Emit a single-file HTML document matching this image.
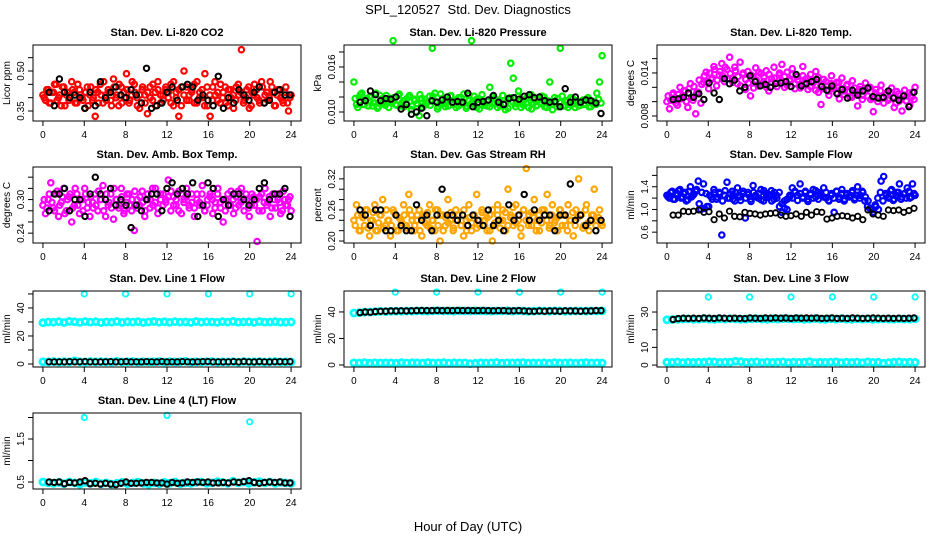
<!DOCTYPE html>
<html><head><meta charset="utf-8"><style>
html,body{margin:0;padding:0;background:#fff;}
svg{display:block;font-family:"Liberation Sans",sans-serif;}
</style></head><body>
<svg id="chart" width="936" height="540" viewBox="0 0 936 540" xmlns="http://www.w3.org/2000/svg">
<text x="468" y="14" font-size="13" text-anchor="middle">SPL_120527&#160; Std. Dev. Diagnostics</text>
<text x="468" y="531" font-size="13" text-anchor="middle">Hour of Day (UTC)</text>
</svg>
<script>
// ---- data ----
const co2Colored=[0.41,0.39,0.43,0.38,0.42,0.45,0.40,0.37,0.44,0.41,0.39,0.46,0.42,0.38,0.43,0.40,0.36,0.44,0.41,0.39,0.33,0.42,0.45,0.38,0.41,0.43,0.39,0.47,0.40,0.37,0.44,0.42,0.49,0.38,0.41,0.45,0.40,0.36,0.43,0.41,0.34,0.44,0.39,0.42,0.46,0.38,0.41,0.43,0.40,0.45,0.37,0.42,0.33,0.44,0.50,0.39,0.41,0.43,0.38,0.46,0.42,0.40,0.49,0.37,0.33,0.44,0.41,0.39,0.45,0.42,0.38,0.43,0.40,0.36,0.44,0.41,0.58,0.39,0.43,0.36,0.42,0.45,0.40,0.38,0.44,0.41,0.39,0.46,0.42,0.37,0.43,0.40,0.38,0.44,0.35,0.41];
const co2Colored2=[0.40,0.43,0.38,0.42,0.45,0.39,0.41,0.44,0.37,0.42,0.40,0.43,0.38,0.45,0.41,0.39,0.42,0.37,0.44,0.40,0.43,0.38,0.41,0.46,0.39,0.42,0.37,0.44,0.41,0.45,0.38,0.40,0.43,0.39,0.46,0.42,0.37,0.41,0.44,0.38,0.42,0.40,0.45,0.37,0.43,0.41,0.39,0.44,0.42,0.38,0.46,0.40,0.43,0.37,0.41,0.44,0.39,0.42,0.45,0.38,0.40,0.43,0.37,0.44,0.41,0.39,0.46,0.42,0.38,0.40,0.44,0.37,0.43,0.41,0.39,0.45,0.42,0.38,0.40,0.44,0.37,0.41,0.43,0.39,0.46,0.38,0.42,0.40,0.44,0.37,0.41,0.43,0.39,0.42,0.38,0.40];
const co2Black=[0.42,0.37,0.47,0.42,0.40,0.41,0.40,0.36,0.42,0.37,0.46,0.40,0.42,0.44,0.41,0.40,0.43,0.41,0.38,0.51,0.36,0.37,0.38,0.42,0.44,0.39,0.44,0.45,0.44,0.39,0.41,0.39,0.37,0.48,0.36,0.40,0.38,0.43,0.41,0.39,0.42,0.44,0.38,0.39,0.42,0.43,0.41,0.41];
const presColored=[0.014,0.011,0.012,0.0125,0.011,0.0118,0.012,0.0108,0.0112,0.0105,0.0122,0.0113,0.0109,0.0115,0.0118,0.0195,0.011,0.0122,0.0108,0.0115,0.0112,0.012,0.0103,0.0117,0.0111,0.0095,0.0118,0.0109,0.0113,0.0121,0.0185,0.0125,0.0104,0.0112,0.0118,0.0107,0.0114,0.0121,0.011,0.0116,0.0108,0.0119,0.0113,0.0105,0.0122,0.0195,0.011,0.0117,0.0104,0.0115,0.0112,0.0108,0.0133,0.0111,0.0118,0.0106,0.0114,0.0122,0.0103,0.0117,0.0165,0.0145,0.0111,0.0128,0.0106,0.0115,0.0112,0.0119,0.0104,0.0116,0.0109,0.0113,0.0121,0.0107,0.0115,0.014,0.0103,0.0112,0.0118,0.0185,0.0108,0.0114,0.0106,0.0119,0.0111,0.0115,0.0108,0.0113,0.0110,0.0117,0.0107,0.0112,0.0114,0.0125,0.0140,0.0175];
const presColored2=[0.0118,0.0106,0.0123,0.011,0.0115,0.0108,0.0121,0.0112,0.0125,0.0107,0.0117,0.0111,0.0122,0.0106,0.0114,0.0119,0.0109,0.0124,0.0112,0.0107,0.0118,0.0122,0.0108,0.0115,0.0111,0.0123,0.0106,0.0117,0.0113,0.0109,0.0121,0.0114,0.0107,0.0124,0.0111,0.0116,0.0108,0.0122,0.0113,0.0106,0.0119,0.0111,0.0124,0.0108,0.0115,0.0112,0.0121,0.0106,0.0117,0.0123,0.0109,0.0114,0.0107,0.0120,0.0112,0.0116,0.0108,0.0122,0.0111,0.0105,0.0119,0.0113,0.0107,0.0121,0.0114,0.0109,0.0118,0.0106,0.0123,0.0112,0.0108,0.0117,0.0111,0.0120,0.0106,0.0114,0.0110,0.0119,0.0107,0.0113,0.0121,0.0108,0.0115,0.0110,0.0118,0.0106,0.0113,0.0109,0.0116,0.0111,0.0119,0.0107,0.0114,0.0110,0.0117,0.0112];
const presBlack=[0.0113,0.0115,0.0128,0.0123,0.0115,0.0118,0.0117,0.0120,0.0104,0.0110,0.0097,0.0100,0.0105,0.0095,0.0115,0.0113,0.0116,0.0120,0.0113,0.0114,0.0113,0.0125,0.0107,0.0113,0.0114,0.0116,0.0122,0.0113,0.0110,0.0118,0.0119,0.0117,0.0121,0.0123,0.0119,0.0120,0.0115,0.0113,0.0114,0.0107,0.0131,0.0113,0.0120,0.0113,0.0116,0.0115,0.0112,0.0098];
const liTempColored=[0.010,0.009,0.011,0.0105,0.0095,0.012,0.0108,0.0115,0.0092,0.0125,0.0102,0.0083,0.0113,0.0098,0.0127,0.0141,0.0118,0.0131,0.0149,0.0122,0.0137,0.0153,0.0128,0.0145,0.0162,0.0133,0.0148,0.0125,0.0155,0.0138,0.0117,0.0142,0.0108,0.0135,0.0147,0.0122,0.0139,0.0128,0.0143,0.0115,0.0132,0.0148,0.0126,0.0137,0.0152,0.0120,0.0141,0.0129,0.0146,0.0118,0.0135,0.0124,0.0149,0.0131,0.0117,0.0138,0.0126,0.0142,0.0113,0.0096,0.0131,0.0122,0.0109,0.0136,0.0118,0.0127,0.0104,0.0133,0.0115,0.0124,0.0107,0.0129,0.0112,0.0094,0.0121,0.0109,0.0126,0.0118,0.0103,0.0086,0.0117,0.0108,0.0123,0.0098,0.0112,0.0105,0.0119,0.0092,0.0114,0.0101,0.0087,0.0116,0.0108,0.0095,0.0113,0.0120];
const liTempColored2=[0.0108,0.0102,0.0112,0.0098,0.0110,0.0104,0.0115,0.0100,0.0118,0.0106,0.0121,0.0112,0.0130,0.0124,0.0136,0.0128,0.0140,0.0133,0.0145,0.0130,0.0142,0.0136,0.0148,0.0132,0.0139,0.0127,0.0143,0.0135,0.0122,0.0140,0.0131,0.0126,0.0137,0.0119,0.0130,0.0141,0.0124,0.0134,0.0120,0.0138,0.0127,0.0133,0.0121,0.0140,0.0129,0.0135,0.0123,0.0131,0.0138,0.0125,0.0130,0.0119,0.0136,0.0127,0.0132,0.0121,0.0129,0.0116,0.0134,0.0123,0.0118,0.0128,0.0115,0.0125,0.0120,0.0112,0.0127,0.0118,0.0110,0.0122,0.0114,0.0106,0.0119,0.0111,0.0117,0.0103,0.0114,0.0108,0.0120,0.0105,0.0112,0.0100,0.0115,0.0107,0.0110,0.0102,0.0113,0.0106,0.0098,0.0111,0.0104,0.0109,0.0101,0.0112,0.0106,0.0103];
const liTempBlack=[0.0103,0.0104,0.0106,0.0112,0.0106,0.0111,0.0103,0.0126,0.0112,0.0103,0.0132,0.0125,0.0130,0.0115,0.0120,0.0136,0.0128,0.0122,0.0124,0.0120,0.0125,0.0126,0.0128,0.0121,0.0138,0.0122,0.0125,0.0128,0.0131,0.0121,0.0116,0.0122,0.0111,0.0117,0.0105,0.0116,0.0109,0.0115,0.0119,0.0107,0.0105,0.0106,0.0115,0.0105,0.0102,0.0108,0.0093,0.0113];
const ambColored=[0.29,0.275,0.30,0.33,0.285,0.31,0.27,0.295,0.32,0.28,0.305,0.26,0.29,0.31,0.275,0.30,0.32,0.285,0.27,0.295,0.31,0.28,0.30,0.325,0.27,0.29,0.31,0.265,0.30,0.285,0.32,0.275,0.295,0.31,0.28,0.245,0.30,0.29,0.315,0.27,0.30,0.285,0.32,0.295,0.275,0.31,0.29,0.30,0.335,0.28,0.305,0.29,0.315,0.275,0.30,0.32,0.285,0.295,0.27,0.31,0.29,0.325,0.28,0.30,0.31,0.275,0.295,0.32,0.285,0.26,0.30,0.29,0.315,0.275,0.305,0.29,0.32,0.28,0.30,0.27,0.31,0.29,0.225,0.305,0.28,0.32,0.295,0.27,0.31,0.285,0.30,0.275,0.315,0.29,0.30,0.28];
const ambColored2=[0.30,0.285,0.31,0.295,0.28,0.315,0.29,0.305,0.275,0.30,0.31,0.285,0.32,0.29,0.30,0.28,0.31,0.295,0.305,0.285,0.29,0.315,0.30,0.28,0.31,0.295,0.285,0.32,0.30,0.29,0.305,0.28,0.31,0.29,0.30,0.315,0.285,0.305,0.295,0.28,0.31,0.30,0.29,0.32,0.285,0.30,0.31,0.295,0.305,0.315,0.29,0.30,0.28,0.31,0.295,0.305,0.29,0.31,0.285,0.30,0.295,0.31,0.28,0.29,0.305,0.30,0.285,0.31,0.295,0.30,0.28,0.31,0.29,0.30,0.285,0.315,0.295,0.30,0.31,0.285,0.29,0.305,0.30,0.28,0.31,0.295,0.29,0.305,0.285,0.30,0.31,0.295,0.28,0.30,0.29,0.305];
const ambBlack=[0.28,0.31,0.31,0.32,0.28,0.30,0.30,0.27,0.31,0.34,0.31,0.30,0.32,0.29,0.30,0.29,0.25,0.29,0.28,0.30,0.31,0.31,0.28,0.32,0.33,0.31,0.32,0.31,0.33,0.27,0.29,0.33,0.32,0.27,0.30,0.29,0.31,0.31,0.30,0.29,0.30,0.32,0.33,0.30,0.31,0.31,0.32,0.27];
const rhColored=[0.24,0.27,0.22,0.25,0.23,0.26,0.21,0.24,0.27,0.22,0.25,0.28,0.23,0.24,0.21,0.26,0.25,0.22,0.24,0.27,0.23,0.29,0.25,0.22,0.24,0.26,0.21,0.25,0.23,0.27,0.24,0.22,0.26,0.20,0.25,0.23,0.28,0.24,0.22,0.26,0.25,0.23,0.21,0.24,0.27,0.22,0.25,0.29,0.23,0.26,0.24,0.22,0.25,0.20,0.23,0.27,0.24,0.26,0.22,0.30,0.25,0.23,0.27,0.24,0.21,0.26,0.34,0.25,0.23,0.28,0.24,0.22,0.26,0.25,0.29,0.23,0.27,0.24,0.22,0.26,0.25,0.23,0.27,0.24,0.21,0.26,0.32,0.25,0.23,0.27,0.22,0.25,0.30,0.24,0.26,0.23];
const rhColored2=[0.23,0.25,0.22,0.245,0.26,0.225,0.24,0.255,0.22,0.235,0.25,0.225,0.26,0.24,0.23,0.255,0.22,0.245,0.235,0.25,0.225,0.26,0.24,0.23,0.25,0.22,0.245,0.235,0.255,0.225,0.24,0.26,0.23,0.25,0.22,0.245,0.235,0.255,0.225,0.24,0.25,0.23,0.26,0.22,0.245,0.235,0.25,0.225,0.24,0.255,0.23,0.245,0.22,0.26,0.235,0.25,0.225,0.24,0.255,0.23,0.245,0.265,0.235,0.25,0.225,0.26,0.24,0.23,0.255,0.245,0.22,0.25,0.235,0.26,0.24,0.225,0.25,0.235,0.245,0.26,0.23,0.25,0.22,0.24,0.255,0.23,0.245,0.25,0.225,0.26,0.235,0.24,0.25,0.23,0.245,0.235];
const rhBlack=[0.26,0.25,0.23,0.26,0.26,0.22,0.22,0.25,0.23,0.22,0.22,0.27,0.24,0.25,0.22,0.25,0.30,0.25,0.25,0.24,0.25,0.23,0.25,0.24,0.23,0.26,0.23,0.24,0.22,0.27,0.24,0.25,0.29,0.24,0.26,0.24,0.25,0.25,0.22,0.25,0.25,0.31,0.24,0.25,0.23,0.24,0.22,0.24];
const flowColored=[1.25,1.2,1.32,1.18,1.28,1.35,1.22,1.3,1.17,1.4,1.25,1.32,1.5,1.0,1.45,1.28,1.05,1.22,1.35,1.18,1.3,0.55,1.25,1.48,1.2,1.32,1.15,1.38,1.22,1.28,0.85,1.3,1.18,1.42,1.25,1.2,1.35,1.15,1.28,1.22,1.33,1.18,1.25,1.3,0.95,1.15,1.0,1.22,1.38,1.3,1.25,1.45,1.2,1.32,1.18,1.28,1.35,1.22,1.3,1.25,1.38,1.2,1.15,1.28,0.95,1.32,1.22,1.35,1.18,1.28,1.25,1.33,1.2,1.4,1.25,1.3,1.22,1.15,1.0,0.95,1.05,1.0,1.5,1.58,1.25,1.2,1.35,1.18,1.3,1.45,1.22,1.28,1.38,1.2,1.45,1.25];
const flowColored2=[1.22,1.3,1.18,1.26,1.33,1.2,1.28,1.15,1.32,1.22,1.27,1.35,1.1,1.3,1.02,1.05,1.25,1.18,1.3,1.22,1.28,1.15,1.33,1.2,1.27,1.18,1.3,1.24,1.16,1.32,1.2,1.26,1.14,1.3,1.22,1.28,1.17,1.33,1.21,1.26,1.15,1.3,1.2,1.05,1.1,1.02,1.18,1.25,1.2,1.32,1.16,1.28,1.22,1.3,1.14,1.26,1.2,1.33,1.18,1.27,1.22,1.3,1.16,1.25,1.2,1.32,1.18,1.28,1.15,1.26,1.22,1.3,1.17,1.25,1.2,1.32,1.15,1.05,1.02,1.0,1.08,1.2,1.3,1.15,1.28,1.22,1.33,1.16,1.25,1.3,1.18,1.27,1.2,1.32,1.22,1.28];
const flowBlack=[0.9,0.9,0.97,0.96,0.97,0.99,0.95,0.96,0.82,0.92,0.85,0.97,0.88,0.87,0.95,0.93,0.92,0.9,0.92,0.93,0.94,0.9,0.88,0.89,0.92,0.88,0.95,0.9,0.96,0.95,0.83,0.85,0.88,0.89,0.88,0.85,0.88,0.82,0.99,0.92,0.90,0.88,0.99,0.98,0.99,0.95,0.98,1.02];
const line1High=[29.5,30,29.8,30.2,29.6,30.4,30.1,29.7,30.3,29.9,30.2,29.6,30,29.8,30.3,29.7,30.1,29.9,30.2,29.6,30,30.3,29.8,30.1,29.7,30.2,29.9,30,29.6,30.3,29.8,30.1,30,29.7,30.2,29.9,30.4,29.8,30,30.1,29.7,30.3,29.9,30,30.2,29.8,29.9,30];
const line1Low=[1.6,1.5,1.8,1.4,1.7,1.5,2.2,1.6,1.4,1.8,1.5,1.7,1.6,1.4,1.9,1.5,1.6,1.8,1.4,1.7,1.5,1.6,1.8,1.4,1.7,1.5,1.6,1.9,1.4,1.6,1.5,1.7,1.8,1.4,1.6,1.5,1.7,1.3,1.8,1.5,1.6,1.7,1.4,1.6,1.8,1.5,1.6,1.5];
const line1Black=[1.6,1.5,1.6,1.5,1.7,1.5,1.6,1.8,1.5,1.6,1.5,1.6,1.7,1.5,1.6,1.8,1.5,1.6,1.5,1.7,1.6,1.5,1.8,1.5,1.6,1.5,1.7,1.6,1.5,1.6,1.7,1.8,1.5,1.6,1.5,1.6,1.7,1.5,1.8,1.6,1.5,1.7,1.6,1.5,1.6,1.7,1.6,1.7];
const line2High=[39.2,39.5,39.8,40,40.2,40.4,40.3,40.5,40.6,40.5,40.7,40.6,40.8,40.7,40.6,40.8,40.9,40.7,40.8,40.6,40.9,40.8,40.7,40.9,40.8,40.7,40.6,40.8,40.7,40.9,40.6,40.8,40.7,40.5,40.6,40.8,40.7,40.6,40.8,40.7,40.5,40.6,40.8,40.7,40.6,40.8,40.7,40.8];
const line2Low=[1.6,1.5,1.8,1.4,1.7,1.5,1.6,1.6,1.4,1.8,1.5,1.7,1.6,1.4,1.9,1.5,1.6,1.8,1.4,1.7,1.5,1.6,1.0,1.4,1.7,1.5,1.6,1.9,1.4,1.6,1.5,1.7,1.8,1.4,1.6,1.5,1.7,1.3,1.8,1.5,1.6,1.7,1.4,1.6,1.8,1.5,1.6,1.5];
const line2Black=[39.5,40,39.8,40.3,40.5,40.6,40.8,40.7,40.9,40.8,40.9,41,41.1,41,41,41.2,41,41.1,41,41.2,41,41.1,41,41,41.1,41,40.9,41,41,40.8,40.9,41,40.8,40.6,40.5,40.7,40.6,40.8,40.7,40.6,40.9,40.8,40.7,40.6,40.8,40.7,41,41];
const line3High=[25.6,25.8,25.9,26,26.1,25.9,26,26.2,26,25.9,26.1,26,26.2,26.1,25.9,26,26.1,26.2,26,25.9,26.1,26,26.2,26.1,26,26.1,25.9,26,26.2,26,25.9,26.1,26,26.2,26,25.9,26.1,26,26.1,25.9,26,26.1,26,25.9,26.1,26,26,26.1];
const line3Low=[1.6,1.5,1.8,1.4,1.7,1.5,1.6,1.6,1.9,1.8,1.5,1.7,1.6,2.1,1.9,1.5,1.6,1.8,1.4,1.7,1.5,1.6,1.8,1.4,1.7,1.5,1.6,1.9,1.4,1.6,1.5,1.7,1.8,1.4,1.6,1.5,1.7,1.3,1.8,1.5,1.6,1.0,1.4,1.6,1.8,1.5,1.6,1.5];
const line3Black=[25.8,26.3,26.5,26.4,26.5,26.4,26.6,26.5,26.4,26.7,26.5,26.4,26.5,26.4,26.3,26.6,26.5,26.4,26.6,26.5,26.7,26.5,26.6,26.4,26.7,26.5,26.6,26.5,26.6,26.4,26.5,26.6,26.4,26.5,26.4,26.6,26.5,26.4,26.5,26.6,26.5,26.4,26.5,26.4,26.5,26.4,26.5,26.6];
const line4Colored=[0.5,0.48,0.47,0.49,0.46,0.5,0.48,0.45,0.49,0.47,0.5,0.46,0.48,0.45,0.47,0.49,0.46,0.48,0.5,0.47,0.45,0.48,0.46,0.49,0.47,0.5,0.46,0.48,0.47,0.49,0.5,0.47,0.48,0.51,0.49,0.47,0.52,0.48,0.5,0.47,0.49,0.51,0.48,0.5,0.47,0.49,0.48,0.47];
const line4Black=[0.5,0.49,0.5,0.46,0.49,0.48,0.5,0.53,0.46,0.47,0.45,0.47,0.45,0.44,0.47,0.5,0.47,0.47,0.48,0.49,0.49,0.48,0.48,0.45,0.49,0.47,0.48,0.5,0.49,0.5,0.49,0.5,0.48,0.48,0.49,0.48,0.5,0.49,0.51,0.53,0.49,0.47,0.49,0.5,0.49,0.5,0.48,0.48];
const spikeHours=[4,8,12,16,20,24];
const line1Spikes=[50,50,50,50,50,50];
const line2Spikes=[55,55,55,55,55,55];
const line3Spikes=[38.5,38.5,38.5,38.5,38.5,38.5];
const line4SpikeHours=[4,12,20];
const line4Spikes=[2.0,2.05,1.9];
const xTicks=[0,4,8,12,16,20,24];

// ---- layout ----
const NS="http://www.w3.org/2000/svg";
const svg=document.getElementById('chart');
const colX=[33,344,657], rowY=[45,167,291,413], W=268, H=76;
function mk(tag,attrs,parent){const e=document.createElementNS(NS,tag);for(const k in attrs)e.setAttribute(k,attrs[k]);(parent||svg).appendChild(e);return e;}

function panel(cfg){
  const x0=colX[cfg.col], y0=rowY[cfg.row];
  const g=mk('g',{});
  
  
  const xs=h=>x0+(h+0.96)/25.92*W;
  const ys=v=>y0+H-(v-cfg.ylo)/(cfg.yhi-cfg.ylo)*H;
  cfg.series.forEach(s=>{
    const sg=mk('g',{},g);
    
    
    const n=s.values.length;
    s.values.forEach((v,i)=>{
      const h=s.hours?s.hours[i]:s.start+(s.end-s.start)*i/(n-1);
      const c=mk('circle',{cx:xs(h).toFixed(1),cy:ys(v).toFixed(1),r:s.r||2.7,fill:'none',stroke:s.color,'stroke-width':s.sw||1.8},sg);
      
      
    });
  });
  const b=mk('rect',{x:x0,y:y0,width:W,height:H,fill:'none',stroke:'#000','stroke-width':1},g);
  
  
  const t=mk('text',{x:x0+W/2,y:y0-9,'font-size':11,'font-weight':'bold','text-anchor':'middle'},g);
  t.textContent=cfg.title;
  
  
  mk('line',{x1:xs(0),x2:xs(24),y1:y0+H,y2:y0+H,stroke:'#000'},g);
  xTicks.forEach(h=>{
    mk('line',{x1:xs(h),x2:xs(h),y1:y0+H,y2:y0+H+5,stroke:'#000'},g);
    const l=mk('text',{x:xs(h),y:y0+H+17,'font-size':10,'text-anchor':'middle'},g);
    l.textContent=h;
    
    
  });
  mk('line',{x1:x0,x2:x0,y1:ys(cfg.ticks[0]),y2:ys(cfg.ticks[cfg.ticks.length-1]),stroke:'#000'},g);
  cfg.ticks.forEach(v=>{
    mk('line',{x1:x0-5,x2:x0,y1:ys(v),y2:ys(v),stroke:'#000'},g);
  });
  cfg.labels.forEach(v=>{
    const yy=ys(v);
    const l=mk('text',{x:x0-9,y:yy,'font-size':10,'text-anchor':'middle',transform:`rotate(-90 ${x0-9} ${yy})`},g);
    l.textContent=cfg.fmt(v);
    
    
  });
  const yl=mk('text',{x:x0-23,y:y0+H/2,'font-size':10,'text-anchor':'middle',transform:`rotate(-90 ${x0-23} ${y0+H/2})`},g);
  yl.textContent=cfg.ylabel;
  
  
}
const f2=v=>v.toFixed(2), f3=v=>v.toFixed(3), f1=v=>v.toFixed(1), f0=v=>v.toFixed(0);
const C='#00ffff';
panel({name:'panel-co2',col:0,row:0,title:'Stan. Dev. Li-820 CO2',ylabel:'Licor ppm',ylo:0.3125,yhi:0.5975,ticks:[0.35,0.40,0.45,0.50,0.55],labels:[0.35,0.50],fmt:f2,
 series:[{name:'co2-all',values:co2Colored,start:0,end:24,color:'#ff0000',sw:2.2},{name:'co2-all-b',values:co2Colored2,start:0.12,end:23.9,color:'#ff0000',sw:2.2},{name:'co2-hourly',values:co2Black,start:0.6,end:23.9,color:'#000',sw:2}]});
panel({name:'panel-pressure',col:1,row:0,title:'Stan. Dev. Li-820 Pressure',ylabel:'kPa',ylo:0.0088,yhi:0.01893,ticks:[0.010,0.012,0.014,0.016,0.018],labels:[0.010,0.016],fmt:f3,
 series:[{name:'pressure-all',values:presColored,start:0,end:24,color:'#00ee00',sw:2.2},{name:'pressure-all-b',values:presColored2,start:0.12,end:23.9,color:'#00ee00',sw:2.2},{name:'pressure-hourly',values:presBlack,start:0.6,end:23.9,color:'#000',sw:2}]});
panel({name:'panel-li-temp',col:2,row:0,title:'Stan. Dev. Li-820 Temp.',ylabel:'degrees C',ylo:0.0073,yhi:0.0179,ticks:[0.008,0.010,0.012,0.014,0.016],labels:[0.008,0.014],fmt:f3,
 series:[{name:'li-temp-all',values:liTempColored,start:0,end:24,color:'#ff00ff',sw:2.2},{name:'li-temp-all-b',values:liTempColored2,start:0.12,end:23.9,color:'#ff00ff',sw:2.2},{name:'li-temp-hourly',values:liTempBlack,start:0.6,end:23.9,color:'#000',sw:2}]});
panel({name:'panel-amb-temp',col:0,row:1,title:'Stan. Dev. Amb. Box Temp.',ylabel:'degrees C',ylo:0.2224,yhi:0.3582,ticks:[0.24,0.26,0.28,0.30,0.32,0.34],labels:[0.24,0.30],fmt:f2,
 series:[{name:'amb-temp-all',values:ambColored,start:0,end:24,color:'#ff00ff',sw:2.2},{name:'amb-temp-all-b',values:ambColored2,start:0.12,end:23.9,color:'#ff00ff',sw:2.2},{name:'amb-temp-hourly',values:ambBlack,start:0.6,end:23.9,color:'#000',sw:2}]});
panel({name:'panel-rh',col:1,row:1,title:'Stan. Dev. Gas Stream RH',ylabel:'percent',ylo:0.1962,yhi:0.3429,ticks:[0.20,0.22,0.24,0.26,0.28,0.30,0.32],labels:[0.20,0.26,0.32],fmt:f2,
 series:[{name:'rh-all',values:rhColored,start:0,end:24,color:'#ffa500',sw:2.2},{name:'rh-all-b',values:rhColored2,start:0.12,end:23.9,color:'#ffa500',sw:2.2},{name:'rh-hourly',values:rhBlack,start:0.6,end:23.9,color:'#000',sw:2}]});
panel({name:'panel-sample-flow',col:2,row:1,title:'Stan. Dev. Sample Flow',ylabel:'ml/min',ylo:0.409,yhi:1.748,ticks:[0.6,0.8,1.0,1.2,1.4,1.6],labels:[0.6,1.0,1.4],fmt:f1,
 series:[{name:'sample-flow-all',values:flowColored,start:0,end:24,color:'#0000ff',sw:2.2},{name:'sample-flow-all-b',values:flowColored2,start:0.12,end:23.9,color:'#0000ff',sw:2.2},{name:'sample-flow-hourly',values:flowBlack,start:0.6,end:23.9,color:'#000',sw:1.8}]});
panel({name:'panel-line1',col:0,row:2,title:'Stan. Dev. Line 1 Flow',ylabel:'ml/min',ylo:-2.14,yhi:52.1,ticks:[0,10,20,30,40,50],labels:[0,20,40],fmt:f0,
 series:[{name:'line1-high',values:line1High,start:0,end:24,color:C,sw:2.8,r:3},{name:'line1-low',values:line1Low,start:0,end:24,color:C,sw:2.8,r:3},{name:'line1-spikes',values:line1Spikes,hours:spikeHours,color:C},{name:'line1-hourly',values:line1Black,start:0.6,end:23.9,color:'#000'}]});
panel({name:'panel-line2',col:1,row:2,title:'Stan. Dev. Line 2 Flow',ylabel:'ml/min',ylo:-1.5,yhi:55.8,ticks:[0,20,40],labels:[0,20,40],fmt:f0,
 series:[{name:'line2-high',values:line2High,start:0,end:24,color:C,sw:2.8,r:3},{name:'line2-low',values:line2Low,start:0,end:24,color:C,sw:2.8,r:3},{name:'line2-spikes',values:line2Spikes,hours:spikeHours,color:C},{name:'line2-hourly',values:line2Black,start:0.6,end:23.9,color:'#000',sw:2}]});
panel({name:'panel-line3',col:2,row:2,title:'Stan. Dev. Line 3 Flow',ylabel:'ml/min',ylo:-1.1,yhi:41.9,ticks:[0,10,20,30],labels:[0,10,30],fmt:f0,
 series:[{name:'line3-high',values:line3High,start:0,end:24,color:C,sw:2.8,r:3},{name:'line3-low',values:line3Low,start:0,end:24,color:C,sw:2.8,r:3},{name:'line3-spikes',values:line3Spikes,hours:spikeHours,color:C},{name:'line3-hourly',values:line3Black,start:0.6,end:23.9,color:'#000',sw:2}]});
panel({name:'panel-line4',col:0,row:3,title:'Stan. Dev. Line 4 (LT) Flow',ylabel:'ml/min',ylo:0.337,yhi:2.105,ticks:[0.5,1.0,1.5,2.0],labels:[0.5,1.5],fmt:f1,
 series:[{name:'line4-all',values:line4Colored,start:0,end:24,color:C,sw:2.8,r:3},{name:'line4-spikes',values:line4Spikes,hours:line4SpikeHours,color:C},{name:'line4-hourly',values:line4Black,start:0.6,end:23.9,color:'#000',sw:2}]});
</script>
</body></html>
